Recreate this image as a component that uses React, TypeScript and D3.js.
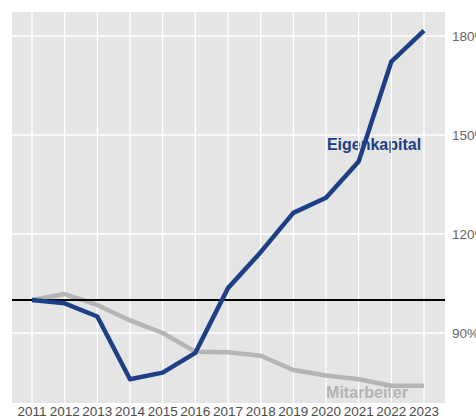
import React from "react";
import * as d3 from "d3";

const years = [2011, 2012, 2013, 2014, 2015, 2016, 2017, 2018, 2019, 2020, 2021, 2022, 2023];
const eigenkapital = [100, 99, 95, 76, 78, 84, 103.6, 114.5, 126.4, 131, 142, 172.2, 181.6];
const mitarbeiter = [100, 101.8, 98.5, 93.8, 90, 84.3, 84.2, 83.1, 78.8, 77.1, 76, 74, 74];
const yTicks = [90, 120, 150, 180];
const yTickLabels = ["90%", "120%", "150%", "180%"];

const W = 476;
const H = 419;
const panel = { left: 12, right: 445, top: 12, bottom: 403 };

export default function App() {
  const x = d3.scaleLinear().domain([2011, 2023]).range([32, 424]);
  const y = d3.scaleLinear().domain([90, 180]).range([333, 36]);

  const line = d3
    .line<number>()
    .x((_, i) => x(years[i]))
    .y((d) => y(d));

  const font = "'Liberation Sans', Arial, sans-serif";

  return (
    <svg
      width={W}
      height={H}
      style={{ position: "absolute", left: 0, top: 0, display: "block" }}
      fontFamily={font}
    >
      <rect x={0} y={0} width={W} height={H} fill="#ffffff" />
      <rect
        x={panel.left}
        y={panel.top}
        width={panel.right - panel.left}
        height={panel.bottom - panel.top}
        fill="#e5e5e5"
      />
      <text
        x={374}
        y={150}
        textAnchor="middle"
        fontSize={16}
        fontWeight="bold"
        fill="#1c3f86"
      >
        Eigenkapital
      </text>
      <text
        x={367}
        y={398}
        textAnchor="middle"
        fontSize={16}
        fontWeight="bold"
        fill="#b3b3b3"
      >
        Mitarbeiter
      </text>
      {years.map((yr) => (
        <line
          key={"vx" + yr}
          x1={x(yr)}
          x2={x(yr)}
          y1={panel.top}
          y2={panel.bottom}
          stroke="#ffffff"
          strokeWidth={1.3}
        />
      ))}
      {yTicks.map((t) => (
        <line
          key={"hy" + t}
          x1={panel.left}
          x2={panel.right}
          y1={y(t)}
          y2={y(t)}
          stroke="#ffffff"
          strokeWidth={1.3}
        />
      ))}
      <path
        d={line(mitarbeiter) || ""}
        fill="none"
        stroke="#b5b5b5"
        strokeWidth={4.5}
        strokeLinejoin="round"
      />
      <line
        x1={panel.left}
        x2={panel.right}
        y1={y(100)}
        y2={y(100)}
        stroke="#000000"
        strokeWidth={2}
      />
      <path
        d={line(eigenkapital) || ""}
        fill="none"
        stroke="#1c3f86"
        strokeWidth={4.5}
        strokeLinejoin="round"
      />
      {years.map((yr) => (
        <text
          key={"xl" + yr}
          x={x(yr)}
          y={416}
          textAnchor="middle"
          fontSize={13.5}
          fill="#4d4d4d"
        >
          {yr}
        </text>
      ))}
      {yTicks.map((t, i) => (
        <text
          key={"yl" + t}
          x={452}
          y={y(t) + 5}
          fontSize={13.5}
          fill="#666666"
        >
          {yTickLabels[i]}
        </text>
      ))}
    </svg>
  );
}
